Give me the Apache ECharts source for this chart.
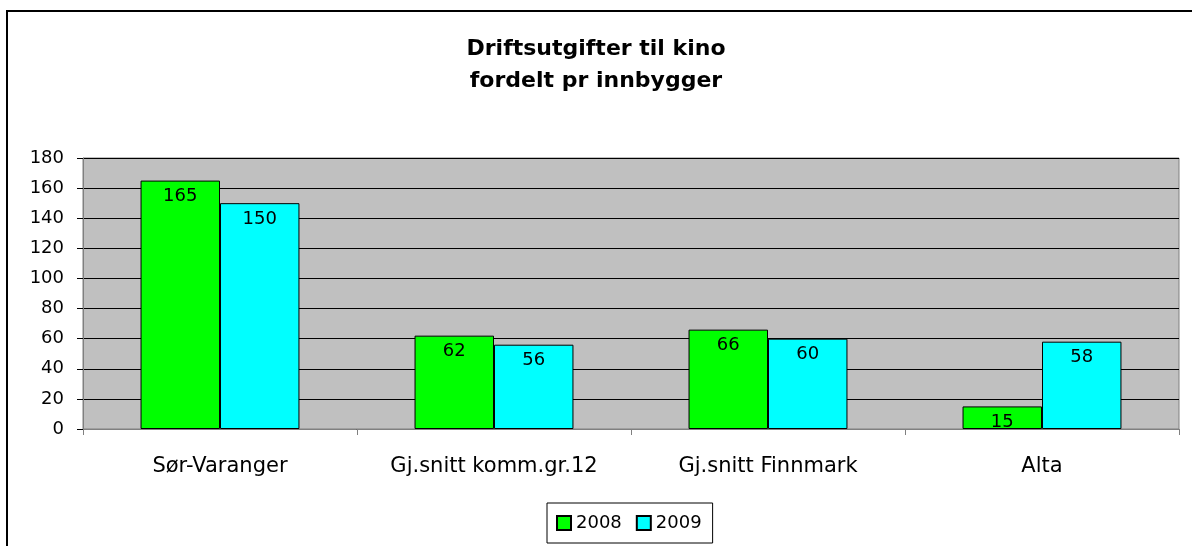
<!DOCTYPE html>
<html>
<head>
<meta charset="utf-8">
<script src="https://cdn.jsdelivr.net/npm/echarts@6/dist/echarts.min.js"></script>
<style>
  html, body { margin: 0; padding: 0; background: #fff; }
  #chart { width: 1192px; height: 546px; }
</style>
</head>
<body>
<div id="chart"></div>
<script>
const categories = ['Sør-Varanger', 'Gj.snitt komm.gr.12', 'Gj.snitt Finnmark', 'Alta']
const seriesNames = ['2008', '2009']
const values2008 = [165, 62, 66, 15]
const values2009 = [150, 56, 60, 58]
const yTicks = [0, 20, 40, 60, 80, 100, 120, 140, 160, 180]

// the reference text is wide, DejaVu Sans is closer than Arial
const font = 'DejaVu Sans, Verdana, sans-serif'
const colors = ['#00FF00', '#00FFFF']

const chart = echarts.init(document.getElementById('chart'))

const makeSeries = (name, data, i) => ({
  name: name,
  type: 'bar',
  data: data,
  barGap: '0%',
  barCategoryGap: '42%',
  itemStyle: { color: colors[i], borderColor: '#000', borderWidth: 1 },
  label: {
    show: true,
    position: 'insideTop',
    distance: 7,
    color: '#000',
    fontFamily: font,
    fontSize: 18
  }
})

chart.setOption({
  animation: false,
  backgroundColor: '#fff',
  title: {
    text: 'Driftsutgifter til kino\nfordelt pr innbygger',
    left: 'center',
    top: 28,
    textStyle: {
      fontFamily: font,
      fontSize: 22,
      fontWeight: 'bold',
      color: '#000',
      lineHeight: 32
    }
  },
  graphic: [
    {
      type: 'rect',
      shape: { x: 7, y: 11, width: 1400, height: 800 },
      style: { fill: 'none', stroke: '#000', lineWidth: 2 },
      silent: true
    }
  ],
  legend: {
    data: seriesNames,
    left: 547,
    top: 503,
    orient: 'horizontal',
    itemWidth: 14,
    itemHeight: 14,
    itemGap: 14,
    padding: [11, 11, 11, 9],
    borderColor: '#000',
    borderWidth: 1,
    icon: 'rect',
    textStyle: { fontFamily: font, fontSize: 18, color: '#000' }
  },
  grid: {
    left: 83,
    right: 13,
    top: 158,
    bottom: 117,
    show: true,
    backgroundColor: '#C0C0C0',
    borderColor: '#808080',
    borderWidth: 1
  },
  xAxis: {
    type: 'category',
    data: categories,
    axisLine: { lineStyle: { color: '#808080', width: 1 } },
    axisTick: { show: true, length: 6, lineStyle: { color: '#808080' } },
    axisLabel: { color: '#000', fontFamily: font, fontSize: 21, margin: 27 }
  },
  yAxis: {
    type: 'value',
    min: yTicks[0],
    max: yTicks[yTicks.length - 1],
    interval: yTicks[1] - yTicks[0],
    axisLine: { show: true, lineStyle: { color: '#808080', width: 1 } },
    axisTick: { show: true, length: 6, lineStyle: { color: '#000' } },
    axisLabel: { color: '#000', fontFamily: font, fontSize: 18, margin: 19 },
    splitLine: { show: true, lineStyle: { color: '#000', width: 1 } }
  },
  series: [
    makeSeries(seriesNames[0], values2008, 0),
    makeSeries(seriesNames[1], values2009, 1)
  ]
})
</script>
</body>
</html>
